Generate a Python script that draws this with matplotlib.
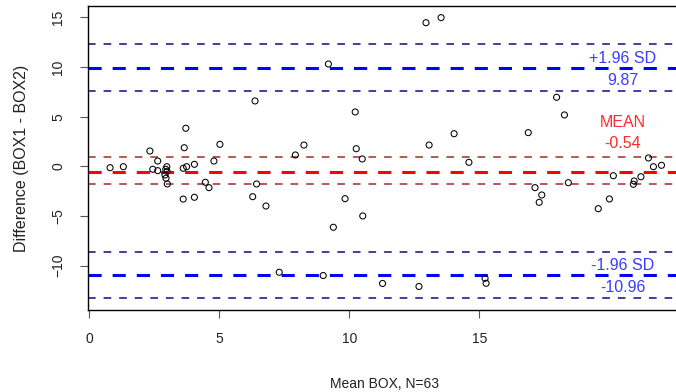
import numpy as np
import matplotlib
matplotlib.use("Agg")
from matplotlib import pyplot as plt

plt.rcParams['font.family'] = ['Liberation Sans', 'DejaVu Sans']

# mean of the two boxes and their difference (63 pairs)
mean_box = [0.81, 1.32, 2.34, 2.64, 2.45, 2.64, 2.99, 2.95, 2.92, 2.96,
            3.01, 3.72, 3.66, 3.62, 3.75, 4.05, 3.62, 4.05, 4.47, 4.61,
            4.80, 5.03, 6.38, 6.44, 6.29, 6.80, 12.95, 13.53, 9.20, 10.23,
            14.03, 8.26, 7.93, 10.27, 10.50, 13.07, 14.60, 9.84, 10.52, 9.39,
            7.31, 9.00, 11.28, 12.68, 17.97, 18.27, 16.88, 21.50, 21.69, 22.00,
            20.15, 21.21, 20.95, 20.92, 18.42, 17.14, 17.40, 17.30, 20.00, 19.57,
            15.22, 15.26, 3.00]
diff_box = [-0.14, -0.04, 1.54, 0.53, -0.30, -0.44, -0.04, -0.30, -0.88, -1.20,
            -1.78, 3.83, 1.87, -0.20, -0.04, 0.20, -3.30, -3.12, -1.61, -2.15,
            0.53, 2.21, 6.58, -1.78, -3.06, -4.00, 14.46, 14.97, 10.30, 5.47,
            3.28, 2.14, 1.14, 1.77, 0.74, 2.14, 0.40, -3.26, -5.00, -6.14,
            -10.67, -11.00, -11.80, -12.10, 6.95, 5.17, 3.39, 0.84, -0.04, 0.10,
            -0.95, -1.05, -1.48, -1.81, -1.65, -2.15, -2.89, -3.63, -3.29, -4.27,
            -11.28, -11.78, -0.50]

# agreement limits and their confidence bands
mean_diff = -0.54
mean_ci = [0.90, -1.80]
upper_loa = 9.87
upper_ci = [12.30, 7.62]
lower_loa = -10.96
lower_ci = [-8.62, -13.24]

W, H = 676, 392
fig = plt.figure(figsize=(W / 100, H / 100), dpi=100)
ax = fig.add_axes([87.5 / W, 1 - 310 / H, (681 - 87.5) / W, (310 - 6) / H])

ax.scatter(mean_box, diff_box, s=19, facecolors='none', edgecolors='black',
           linewidths=0.75, zorder=3)

thick = dict(lw=2.2, dashes=(4.3, 3.6))
thin = dict(lw=1.1, dashes=(5.0, 5.2))
ax.axhline(upper_loa, color='#0000ff', **thick)
ax.axhline(lower_loa, color='#0000ff', **thick)
ax.axhline(mean_diff, color='#ff0000', **thick)
for v in upper_ci + lower_ci:
    ax.axhline(v, color='#0c0c8a', **thin)
for v in mean_ci:
    ax.axhline(v, color='#a52a2a', **thin)

tx = 20.52
blue_txt = '#3b3bff'
red_txt = '#ff2b2b'
ax.text(tx, upper_loa + 0.95, '+1.96 SD', color=blue_txt, fontsize=11.5, ha='center', va='center')
ax.text(tx, upper_loa - 1.2, f'{upper_loa:.2f}', color=blue_txt, fontsize=11.5, ha='center', va='center')
ax.text(tx, mean_diff + 4.9, 'MEAN', color=red_txt, fontsize=11.5, ha='center', va='center')
ax.text(tx, mean_diff + 2.8, f'{mean_diff:.2f}', color=red_txt, fontsize=11.5, ha='center', va='center')
ax.text(tx, lower_loa + 1.0, '-1.96 SD', color=blue_txt, fontsize=11.5, ha='center', va='center')
ax.text(tx, lower_loa - 1.2, f'{lower_loa:.2f}', color=blue_txt, fontsize=11.5, ha='center', va='center')

ax.set_xlim(-0.058, 22.75)
ax.set_ylim(-14.47, 16.14)
ax.set_xticks([0, 5, 10, 15])
ax.set_yticks([-10, -5, 0, 5, 10, 15])
ax.tick_params(axis='both', length=6, width=0.8, color='#555555',
               labelsize=10, labelcolor='#222222', pad=10)
for lab in ax.get_yticklabels():
    lab.set_rotation(90)
    lab.set_va('center')
for sp in ax.spines.values():
    sp.set_linewidth(1.0)
    sp.set_color('black')

ax.set_xlabel('Mean BOX, N=63', fontsize=10, color='#222222', labelpad=22)
ax.set_ylabel('Difference (BOX1 - BOX2)', fontsize=11.5, color='#222222', labelpad=16)

fig.savefig('out.png', dpi=100)
